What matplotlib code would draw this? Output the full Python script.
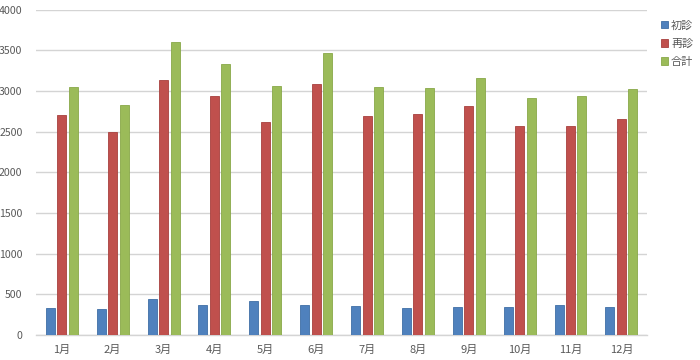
import matplotlib
matplotlib.use("Agg")
import matplotlib.pyplot as plt
import numpy as np

plt.rcParams['font.family'] = ['Noto Sans CJK JP', 'DejaVu Sans']

months = ["1月", "2月", "3月", "4月", "5月", "6月", "7月", "8月", "9月", "10月", "11月", "12月"]
shoshin = [335, 325, 445, 375, 425, 375, 355, 330, 345, 345, 375, 345]
saishin = [2710, 2495, 3135, 2945, 2625, 3090, 2690, 2720, 2815, 2565, 2565, 2660]
goukei = [3050, 2835, 3600, 3330, 3060, 3470, 3050, 3040, 3165, 2915, 2945, 3020]
series_names = ["初診", "再診", "合計"]
colors = ["#4F81BD", "#C0504D", "#9BBB59"]
edges = ["#3F6EA6", "#A8403D", "#88A848"]
yticks = [0, 500, 1000, 1500, 2000, 2500, 3000, 3500, 4000]

fig = plt.figure(figsize=(7, 3.6), dpi=100)
ax = fig.add_axes([0.052, 0.069, 0.872, 0.904])

x = np.arange(len(months))
w = 0.177
pitch = 0.226
for i, (vals, c, ec, name) in enumerate(zip([shoshin, saishin, goukei], colors, edges, series_names)):
    ax.bar(x + (i - 1) * pitch, vals, width=w, color=c, edgecolor=ec, linewidth=0.6, label=name, zorder=3)

ax.set_xlim(-0.5, len(months) - 0.5)
ax.set_ylim(0, 4000)
ax.set_yticks(yticks)
ax.set_xticks(x)
ax.set_xticklabels(months)
ax.yaxis.grid(True, color="#D4D4D4", linewidth=1.0, zorder=0)
for s in ["top", "right", "left"]:
    ax.spines[s].set_visible(False)
ax.spines["bottom"].set_color("#D4D4D4")
ax.spines["bottom"].set_linewidth(1.0)
ax.tick_params(axis="y", length=0, labelsize=7.6, colors="#595959", pad=10)
ax.tick_params(axis="x", length=0, labelsize=8, colors="#595959", pad=7)

leg = fig.legend(loc="upper left", bbox_to_anchor=(0.938, 0.955), frameon=False,
                 fontsize=8, handlelength=0.6, handleheight=0.6, handletextpad=0.3,
                 labelspacing=0.72, borderaxespad=0)
for t in leg.get_texts():
    t.set_color("#595959")

fig.savefig("out.png", dpi=100)
